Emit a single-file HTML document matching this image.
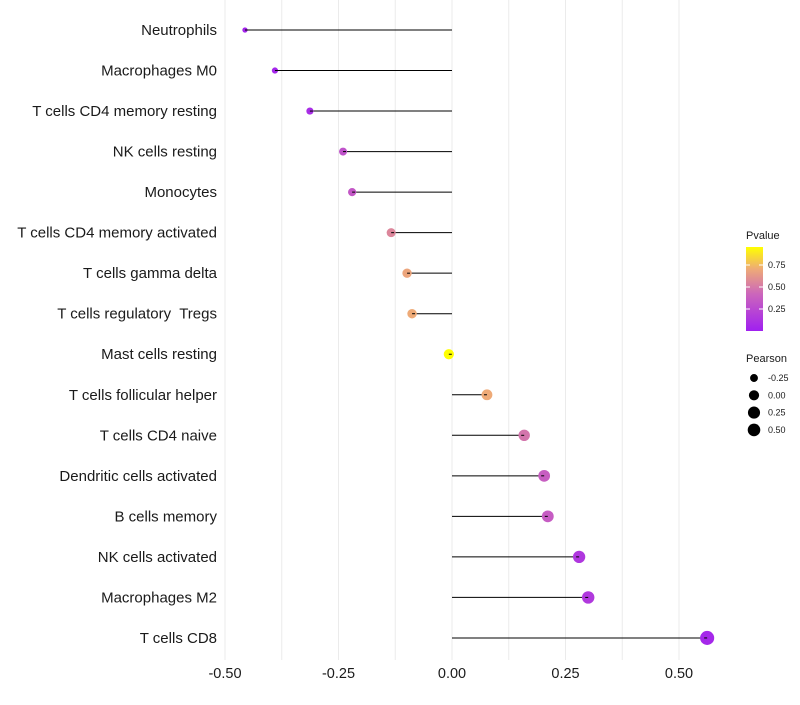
<!DOCTYPE html>
<html><head><meta charset="utf-8"><style>
body{margin:0;background:#fff;font-family:"Liberation Sans",sans-serif}
</style></head><body>
<svg id="c" width="800" height="700" xmlns="http://www.w3.org/2000/svg" font-family="Liberation Sans, sans-serif"></svg>
<script>
const categories=["Neutrophils","Macrophages M0","T cells CD4 memory resting","NK cells resting","Monocytes","T cells CD4 memory activated","T cells gamma delta","T cells regulatory  Tregs","Mast cells resting","T cells follicular helper","T cells CD4 naive","Dendritic cells activated","B cells memory","NK cells activated","Macrophages M2","T cells CD8"];
const pearson=[-0.456,-0.39,-0.313,-0.24,-0.22,-0.134,-0.099,-0.088,-0.007,0.077,0.159,0.203,0.211,0.28,0.30,0.562];
const pvalue=[0.03,0.04,0.08,0.3,0.33,0.55,0.68,0.7,0.95,0.7,0.48,0.37,0.36,0.14,0.15,0.05];
const xTicks=[-0.5,-0.25,0,0.25,0.5];
const xTickLabels=["-0.50","-0.25","0.00","0.25","0.50"];
const legendP=[0.25,0.5,0.75];
const legendS=[-0.25,0,0.25,0.5];
const NS="http://www.w3.org/2000/svg",svg=document.getElementById('c');
const xs=v=>452+v*454;
const ys=i=>30+i*40.53;
const rs=v=>Math.sqrt(Math.max(3,16+42*(v+0.24)));
const stops=[[0,[160,32,240]],[0.42,[204,102,187]],[0.7,[238,170,119]],[0.95,[255,255,0]]];
function col(p){p=Math.max(0,Math.min(0.95,p));for(let k=1;k<stops.length;k++){if(p<=stops[k][0]){const a=stops[k-1],b=stops[k],t=(p-a[0])/(b[0]-a[0]);return 'rgb('+a[1].map((c,j)=>Math.round(c+(b[1][j]-c)*t)).join(',')+')';}}return 'rgb(255,255,0)';}
function el(t,a,txt){const e=document.createElementNS(NS,t);for(const k in a)e.setAttribute(k,a[k]);if(txt!=null)e.textContent=txt;svg.appendChild(e);return e;}
for(let v=-0.5;v<=0.5001;v+=0.125){const g=el('line',{x1:xs(v),x2:xs(v),y1:0,y2:660,stroke:'#ebebeb','stroke-width':1});

}
xTicks.forEach((v,i)=>{const t=el('text',{x:xs(v),y:678,'text-anchor':'middle','font-size':14.5,fill:'#1a1a1a'},xTickLabels[i]);

});
categories.forEach((c,i)=>{const y=ys(i);
const t=el('text',{x:217,y:y+5,'text-anchor':'end','font-size':15,fill:'#1a1a1a',style:'white-space:pre'},c);


const l=el('line',{x1:xs(0),x2:xs(pearson[i]),y1:y,y2:y,stroke:'#000','stroke-width':1});


const d=el('circle',{cx:xs(pearson[i]),cy:y,r:rs(pearson[i]),fill:col(pvalue[i])});


el('line',{x1:xs(pearson[i]),x2:xs(pearson[i])+(pearson[i]<0?3:-3),y1:y,y2:y,stroke:'#000','stroke-width':1});
});
const defs=el('defs',{});const lg=document.createElementNS(NS,'linearGradient');lg.setAttribute('id','g');lg.setAttribute('x1',0);lg.setAttribute('x2',0);lg.setAttribute('y1',1);lg.setAttribute('y2',0);
stops.forEach(s=>{const st=document.createElementNS(NS,'stop');st.setAttribute('offset',s[0]/0.95);st.setAttribute('stop-color','rgb('+s[1].join(',')+')');lg.appendChild(st);});defs.appendChild(lg);
const lt=el('text',{x:746,y:239,'font-size':11,fill:'#1a1a1a'},'Pvalue');


const bar=el('rect',{x:746,y:247,width:17,height:84,fill:'url(#g)'});


legendP.forEach(p=>{const y=331-p*88;el('line',{x1:746,x2:750,y1:y,y2:y,stroke:'#fff'});el('line',{x1:759,x2:763,y1:y,y2:y,stroke:'#fff'});
const t=el('text',{x:768,y:y+3,'font-size':9,fill:'#1a1a1a'},p.toFixed(2));

});
const st=el('text',{x:746,y:362,'font-size':11,fill:'#1a1a1a'},'Pearson');


legendS.forEach((v,i)=>{const y=378+i*17.3;
const d=el('circle',{cx:754,cy:y,r:Math.min(6.3,rs(v)),fill:'#000'});


const t=el('text',{x:768,y:y+3,'font-size':9,fill:'#1a1a1a'},(v<0?'-':'')+Math.abs(v).toFixed(2));

});
</script>
</body></html>
